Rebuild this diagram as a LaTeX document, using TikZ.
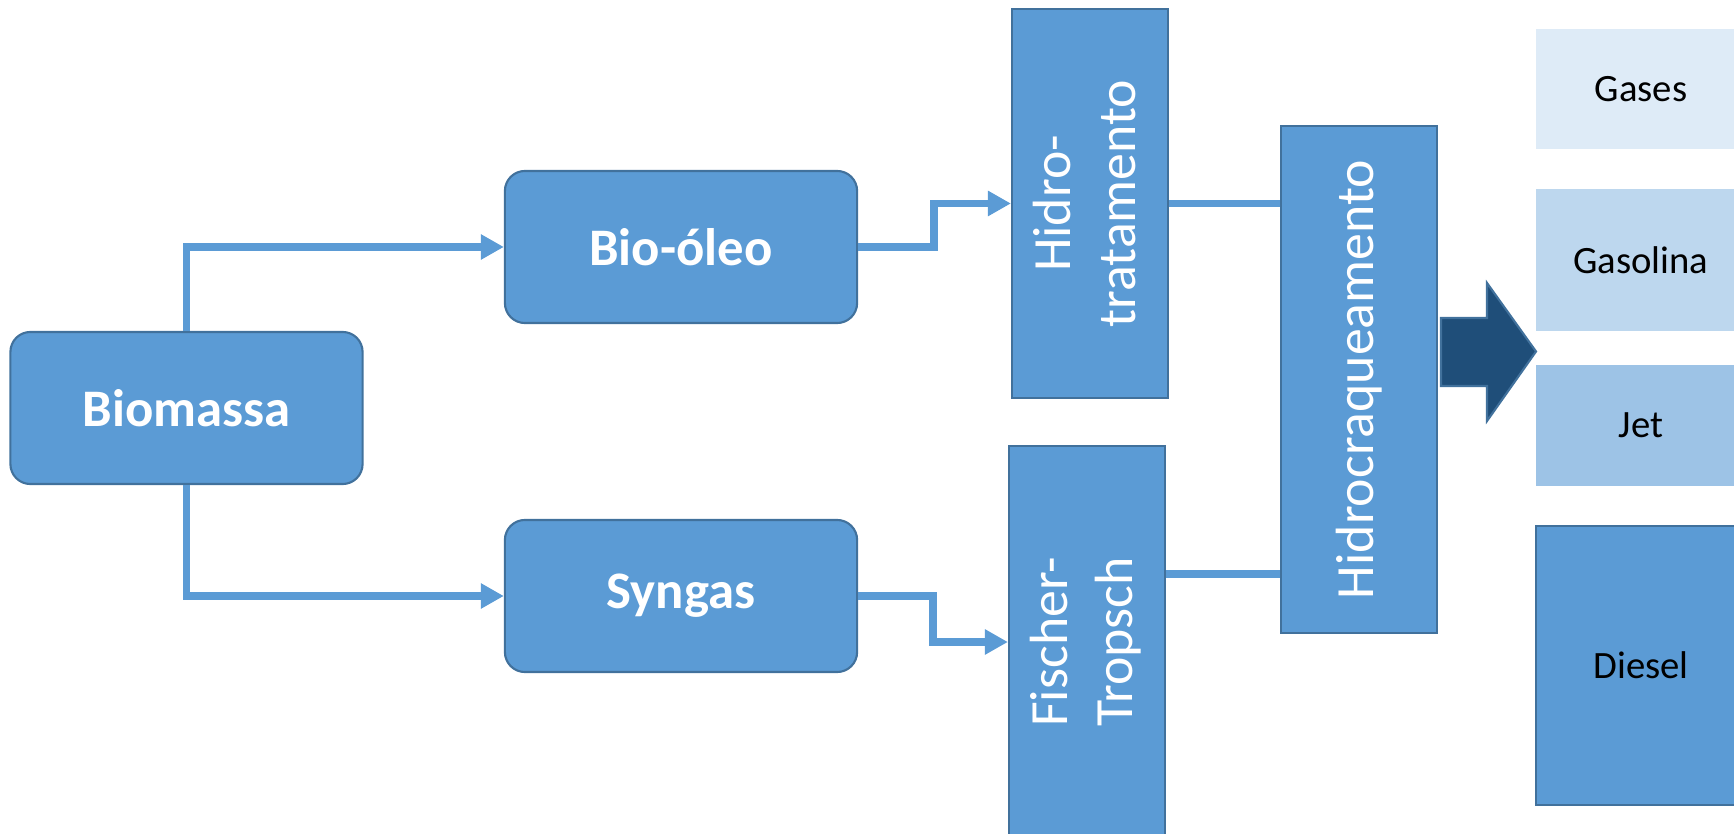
\documentclass[tikz,border=0pt]{standalone}
\usepackage{fontspec}
\setmainfont{Carlito}
\usepackage{graphicx}
\usetikzlibrary{arrows.meta}
\definecolor{boxblue}{HTML}{5B9BD5}
\definecolor{edgeblue}{HTML}{41719C}
\definecolor{darkblue}{HTML}{1F4E79}
\definecolor{gasfill}{HTML}{DEEBF7}
\definecolor{gasolfill}{HTML}{BDD7EE}
\definecolor{jetfill}{HTML}{9DC3E6}

\begin{document}
\begin{tikzpicture}[x=0.01cm,y=-0.01cm,>={Triangle[length=0.23cm,width=0.24cm]}]
	\tikzset{proc/.style={draw=edgeblue,fill=boxblue,line width=0.6pt,rounded corners=0.2cm,minimum width=3.52cm,minimum height=1.52cm,inner sep=0pt,text=white,font=\bfseries\fontsize{15}{18}\selectfont}}
	\tikzset{unit/.style={draw=edgeblue,fill=boxblue,line width=0.6pt,minimum width=1.56cm,inner sep=0pt,text=white,font=\fontsize{15.3}{18.4}\selectfont}}
	\tikzset{prod/.style={minimum width=2.1cm,inner sep=0pt,font=\fontsize{11}{13}\selectfont}}
	\tikzset{link/.style={draw=boxblue,line width=2.1pt}}
	\useasboundingbox (0,0) rectangle (1734,834);
	% feed and intermediates
	\node[proc] (bio) at (186.5,408) {Biomassa};
	\node[proc] (oleo) at (681,247) {Bio-óleo};
	\node[proc] (syn) at (681,596) {Syngas};
	% process units
	\node[unit,minimum height=3.89cm] (hidro) at (1090,203.5) {\rotatebox{90}{\begin{tabular}{@{}c@{}}Hidro-\\tratamento\end{tabular}}};
	\node[unit,minimum height=3.92cm] (ft) at (1087,642) {\rotatebox{90}{\begin{tabular}{@{}c@{}}Fischer-\\Tropsch\end{tabular}}};
	\node[unit,minimum height=5.07cm] (hcraq) at (1359,379.5) {\rotatebox{90}{Hidrocraqueamento}};
	% products
	\foreach \nm/\txt/\yy/\hh/\cc in {gas/Gases/89/1.20/gasfill,gasol/Gasolina/260/1.42/gasolfill,jet/Jet/425.5/1.21/jetfill}
	\node[prod,fill=\cc,minimum height=\hh cm] (\nm) at (1641,\yy) {\txt};
	\node[prod,draw=edgeblue,line width=0.6pt,fill=boxblue,minimum height=2.79cm] (diesel) at (1641,665.5) {Diesel};
	\draw[fill=darkblue,draw=edgeblue,line width=0.6pt] (1441,318)--(1487,318)--(1487,283)--(1536,351.5)--(1487,421)--(1487,386)--(1441,386)--cycle;
	% connectors
	\draw[link,->] (bio.north) |- (oleo.west);
	\draw[link,->] (bio.south) |- (syn.west);
	\draw[link,->] (oleo.east) -- ++(76,0) |- (hidro.west);
	\draw[link,->] (syn.east) -- ++(75,0) |- (ft.west);
	\draw[link] (hidro.east) -- (hcraq.west |- hidro.east);
	\coordinate (ftout) at ([yshift=0.68cm]ft.east);
	\draw[link] (ftout) -- (hcraq.west |- ftout);
\end{tikzpicture}
\end{document}
